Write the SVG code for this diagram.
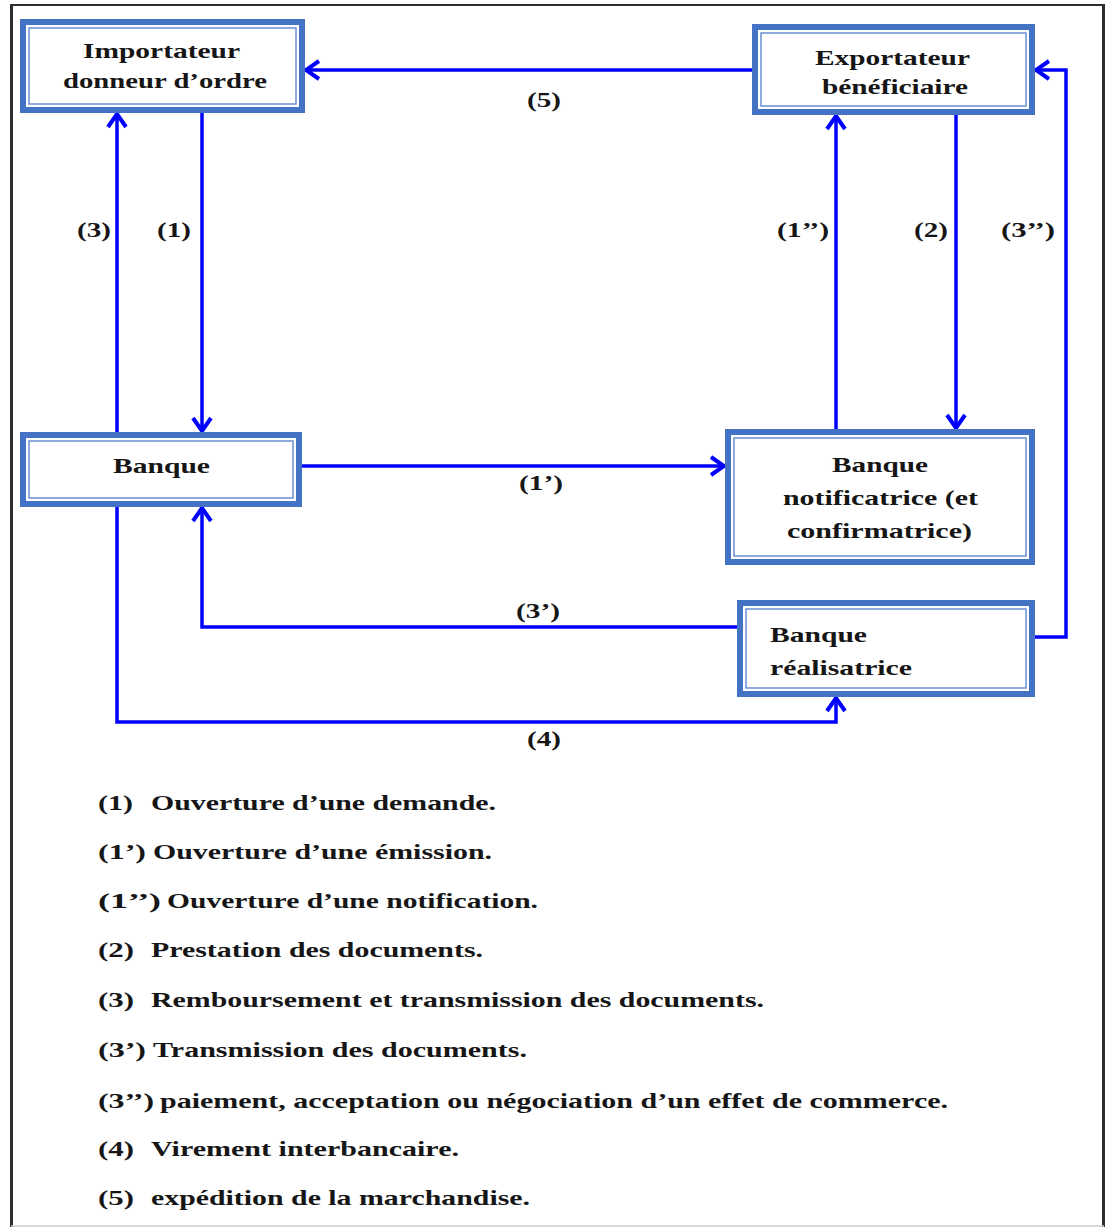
<svg xmlns="http://www.w3.org/2000/svg" width="1106" height="1227" viewBox="0 0 1106 1227">
  <style>
    .frame { stroke: #2e2e2e; fill: none; }
    .box-outer { fill: #ffffff; stroke: #4472c4; stroke-width: 6; }
    .box-inner { fill: none; stroke: #6a8fd3; stroke-width: 1.5; }
    .label { font-family: "Liberation Serif", "Times New Roman", serif; font-weight: bold; font-size: 21px; fill: #161616; }
    .legend { font-family: "Liberation Serif", "Times New Roman", serif; font-weight: bold; font-size: 22px; fill: #161616; }
    .link { fill: none; stroke: #0000ff; stroke-width: 3.5; marker-end: url(#arrow); }
  </style>
  <defs>
    <marker id="arrow" markerUnits="userSpaceOnUse" viewBox="0 0 18 22" refX="16" refY="11" markerWidth="18" markerHeight="22" orient="auto">
      <path d="M2,2 L15,11 L2,20" fill="none" stroke="#0000ff" stroke-width="4" stroke-linejoin="miter"/>
    </marker>
  </defs>

  <rect width="1106" height="1227" fill="#ffffff"/>

  <!-- page frame -->
  <g id="frame">
    <line class="frame" x1="11.5" y1="4" x2="11.5" y2="1227" stroke-width="3"/>
    <line class="frame" x1="10" y1="5" x2="1105" y2="5" stroke-width="2"/>
    <line class="frame" x1="1103.5" y1="4" x2="1103.5" y2="1227" stroke-width="3"/>
    <line x1="11" y1="1226" x2="1104" y2="1226" stroke="#cccccc" stroke-width="1.5"/>
  </g>

  <!-- connectors -->
  <g id="connectors">
    <path class="link" d="M752,70 H305"/>
    <path class="link" d="M202,113 V432"/>
    <path class="link" d="M117,432 V113"/>
    <path class="link" d="M836,429 V115"/>
    <path class="link" d="M956,115 V429"/>
    <path class="link" d="M1023,637 H1066 V70 H1035"/>
    <path class="link" d="M302,466 H725"/>
    <path class="link" d="M737,627 H202 V507"/>
    <path class="link" d="M117,507 V722 H836 V697"/>

    <text class="label" x="527" y="107" textLength="34" lengthAdjust="spacingAndGlyphs">(5)</text>
    <text class="label" x="77" y="237" textLength="34" lengthAdjust="spacingAndGlyphs">(3)</text>
    <text class="label" x="157" y="237" textLength="34" lengthAdjust="spacingAndGlyphs">(1)</text>
    <text class="label" x="777" y="237" textLength="52" lengthAdjust="spacingAndGlyphs">(1’’)</text>
    <text class="label" x="914" y="237" textLength="34" lengthAdjust="spacingAndGlyphs">(2)</text>
    <text class="label" x="1001" y="237" textLength="54" lengthAdjust="spacingAndGlyphs">(3’’)</text>
    <text class="label" x="519" y="490" textLength="44" lengthAdjust="spacingAndGlyphs">(1’)</text>
    <text class="label" x="516" y="618" textLength="44" lengthAdjust="spacingAndGlyphs">(3’)</text>
    <text class="label" x="527" y="746" textLength="34" lengthAdjust="spacingAndGlyphs">(4)</text>
  </g>

  <!-- nodes -->
  <g id="importateur">
    <rect class="box-outer" x="23" y="22" width="279" height="88"/>
    <rect class="box-inner" x="29" y="28" width="267" height="76"/>
    <text class="label" x="83" y="58" textLength="157" lengthAdjust="spacingAndGlyphs">Importateur</text>
    <text class="label" x="63" y="88" textLength="204" lengthAdjust="spacingAndGlyphs">donneur d’ordre</text>
  </g>

  <g id="exportateur">
    <rect class="box-outer" x="755" y="27" width="277" height="85"/>
    <rect class="box-inner" x="761" y="33" width="265" height="73"/>
    <text class="label" x="815" y="65" textLength="155" lengthAdjust="spacingAndGlyphs">Exportateur</text>
    <text class="label" x="822" y="94" textLength="146" lengthAdjust="spacingAndGlyphs">bénéficiaire</text>
  </g>

  <g id="banque">
    <rect class="box-outer" x="23" y="435" width="276" height="69"/>
    <rect class="box-inner" x="29" y="441" width="264" height="57"/>
    <text class="label" x="113" y="473" textLength="97" lengthAdjust="spacingAndGlyphs">Banque</text>
  </g>

  <g id="banque-notificatrice">
    <rect class="box-outer" x="728" y="432" width="304" height="130"/>
    <rect class="box-inner" x="734" y="438" width="292" height="118"/>
    <text class="label" x="832" y="472" textLength="96" lengthAdjust="spacingAndGlyphs">Banque</text>
    <text class="label" x="783" y="505" textLength="195" lengthAdjust="spacingAndGlyphs">notificatrice (et</text>
    <text class="label" x="787" y="538" textLength="185" lengthAdjust="spacingAndGlyphs">confirmatrice)</text>
  </g>

  <g id="banque-realisatrice">
    <rect class="box-outer" x="740" y="603" width="292" height="91"/>
    <rect class="box-inner" x="746" y="609" width="280" height="79"/>
    <text class="label" x="770" y="642" textLength="97" lengthAdjust="spacingAndGlyphs">Banque</text>
    <text class="label" x="770" y="675" textLength="142" lengthAdjust="spacingAndGlyphs">réalisatrice</text>
  </g>

  <!-- legend -->
  <g id="legend">
    <text class="legend" x="98" y="810" textLength="35" lengthAdjust="spacingAndGlyphs">(1)</text>
    <text class="legend" x="151" y="810" textLength="345" lengthAdjust="spacingAndGlyphs">Ouverture d’une demande.</text>

    <text class="legend" x="98" y="859" textLength="48" lengthAdjust="spacingAndGlyphs">(1’)</text>
    <text class="legend" x="153" y="859" textLength="339" lengthAdjust="spacingAndGlyphs">Ouverture d’une émission.</text>

    <text class="legend" x="98" y="908" textLength="63" lengthAdjust="spacingAndGlyphs">(1’’)</text>
    <text class="legend" x="167" y="908" textLength="371" lengthAdjust="spacingAndGlyphs">Ouverture d’une notification.</text>

    <text class="legend" x="98" y="957" textLength="36" lengthAdjust="spacingAndGlyphs">(2)</text>
    <text class="legend" x="151" y="957" textLength="332" lengthAdjust="spacingAndGlyphs">Prestation des documents.</text>

    <text class="legend" x="98" y="1007" textLength="36" lengthAdjust="spacingAndGlyphs">(3)</text>
    <text class="legend" x="151" y="1007" textLength="613" lengthAdjust="spacingAndGlyphs">Remboursement et transmission des documents.</text>

    <text class="legend" x="98" y="1057" textLength="48" lengthAdjust="spacingAndGlyphs">(3’)</text>
    <text class="legend" x="153" y="1057" textLength="374" lengthAdjust="spacingAndGlyphs">Transmission des documents.</text>

    <text class="legend" x="98" y="1108" textLength="56" lengthAdjust="spacingAndGlyphs">(3’’)</text>
    <text class="legend" x="160" y="1108" textLength="788" lengthAdjust="spacingAndGlyphs">paiement, acceptation ou négociation d’un effet de commerce.</text>

    <text class="legend" x="98" y="1156" textLength="36" lengthAdjust="spacingAndGlyphs">(4)</text>
    <text class="legend" x="151" y="1156" textLength="308" lengthAdjust="spacingAndGlyphs">Virement interbancaire.</text>

    <text class="legend" x="98" y="1205" textLength="36" lengthAdjust="spacingAndGlyphs">(5)</text>
    <text class="legend" x="151" y="1205" textLength="379" lengthAdjust="spacingAndGlyphs">expédition de la marchandise.</text>
  </g>
</svg>
